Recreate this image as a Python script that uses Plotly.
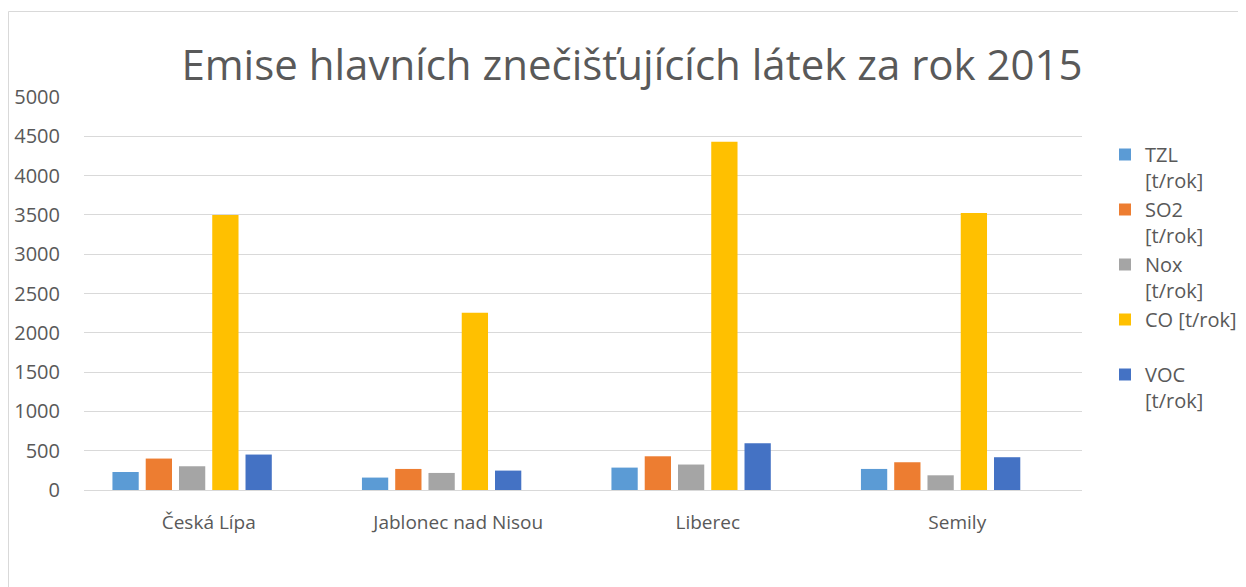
import plotly.graph_objects as go

categories = ["Česká Lípa", "Jablonec nad Nisou", "Liberec", "Semily"]
series_names = ["TZL<br>[t/rok]", "SO2<br>[t/rok]", "Nox<br>[t/rok]", "CO [t/rok]<br> ", "VOC<br>[t/rok]"]
tzl = [229, 158, 285, 268]
so2 = [400, 268, 429, 353]
nox = [302, 217, 324, 187]
co = [3500, 2255, 4430, 3525]
voc = [451, 247, 595, 417]
empty_series = [None, None, None, None]
colors = ["#5B9BD5", "#ED7D31", "#A5A5A5", "#FFC000", "#4472C4"]

fig = go.Figure()
for name, vals, col in zip(series_names, [tzl, so2, nox, co, voc], colors):
    fig.add_trace(go.Bar(x=categories, y=vals, name=name, marker_color=col,
                         marker_line_width=0))
# empty sixth series (reserves a slot in each group, as in the original)
fig.add_trace(go.Bar(x=categories, y=empty_series, name="", showlegend=False,
                     marker_color="rgba(0,0,0,0)", hoverinfo="skip"))

# page has an 8px body margin; figure coordinates are offset accordingly
W, H = 1238, 579
ml, mt = 76, 89
pw, ph = 998, 393
mr = W - ml - pw
mb = H - mt - ph

fig.update_layout(
    width=W, height=H,
    margin=dict(l=ml, r=mr, t=mt, b=mb, autoexpand=False),
    paper_bgcolor="white", plot_bgcolor="white",
    font=dict(family="Open Sans, Noto Sans, sans-serif", color="#595959", size=19),
    title=dict(text="Emise hlavních znečišťujících látek za rok 2015",
               x=624 / W, xanchor="center", y=1 - 57 / H, yanchor="middle",
               font=dict(size=42, color="#595959")),
    barmode="group", bargap=0.2, bargroupgap=0.21,
    showlegend=True,
    legend=dict(x=(1097 - ml) / pw, y=1 - (127 - mt) / ph, xanchor="left", yanchor="top",
                font=dict(size=20, color="#595959"), valign="top",
                itemwidth=30, tracegroupgap=2, bgcolor="rgba(0,0,0,0)"),
    xaxis=dict(showgrid=False, showline=True, linecolor="#d9d9d9", linewidth=1,
               ticks="", tickfont=dict(size=19, color="#595959"), ticklabelstandoff=15),
    yaxis=dict(range=[0, 5000], dtick=500, showgrid=True, gridcolor="#d9d9d9",
               gridwidth=1, zeroline=False, ticks="",
               tickfont=dict(size=20, color="#595959"), ticklabelstandoff=23),
)
fig.add_shape(type="rect", xref="paper", yref="paper",
              x0=(0.5 - ml) / pw, x1=(W + 5 - ml) / pw,
              y0=-(H + 5 - mt - ph) / ph, y1=1 + (mt - 3.5) / ph,
              line=dict(color="#d9d9d9", width=1), fillcolor="rgba(0,0,0,0)", layer="below")

fig.write_html("out.html")
